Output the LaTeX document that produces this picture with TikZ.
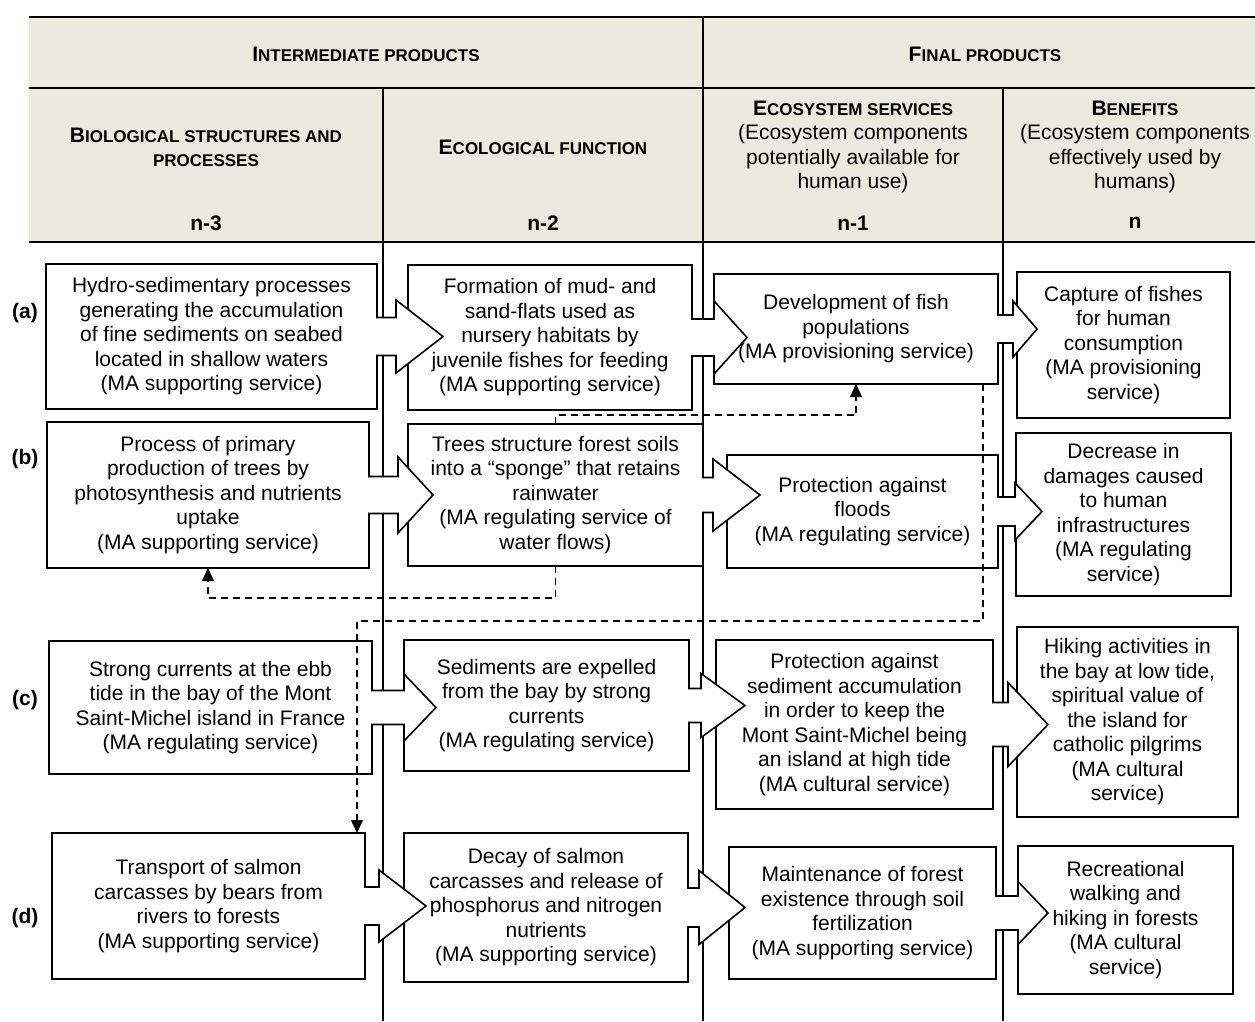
\documentclass[tikz,border=0pt]{standalone}
\usepackage{fontspec}
\setmainfont{Liberation Sans}
\usetikzlibrary{arrows.meta,calc}
\definecolor{hdr}{RGB}{236,233,223}
\newcommand\smc{\fontsize{17}{20}\selectfont}
\pgfdeclarelayer{bg}
\pgfdeclarelayer{shp}
\pgfsetlayers{bg,shp,main}
\tikzset{
  txt/.style={inner sep=0pt, outer sep=0pt, align=center, font=\fontsize{21}{24.5}\selectfont},
  hdrtxt/.style={txt, font=\fontsize{21}{24.5}\selectfont\bfseries},
  lbl/.style={txt, font=\fontsize{21}{24.5}\selectfont\bfseries},
  box/.style args={#1/#2}{txt, minimum width=#1pt, minimum height=#2pt},
  shapeline/.style={draw=black, line width=1.6pt, fill=white, line join=miter},
  rule/.style={black, line width=2pt},
  sep/.style={black, line width=1.5pt},
  dashline/.style={black, line width=1.4pt, dash pattern=on 7pt off 5pt,
    -{Triangle[width=12pt,length=13pt]}}
}
% #1 node, #2 shaft length, #3 shaft half height, #4 head half height, #5 tip distance
\newcommand\callout[5]{%
  \draw[shapeline] (#1.north west) -- (#1.north east)
    -- ([yshift=#3pt]#1.east) -- ([xshift=#2pt,yshift=#3pt]#1.east)
    -- ([xshift=#2pt,yshift=#4pt]#1.east) -- ([xshift=#5pt]#1.east)
    -- ([xshift=#2pt,yshift=-#4pt]#1.east) -- ([xshift=#2pt,yshift=-#3pt]#1.east)
    -- ([yshift=-#3pt]#1.east) -- (#1.south east) -- (#1.south west) -- cycle;}
\begin{document}
\begin{tikzpicture}[x=1pt,y=-1pt]
\useasboundingbox (0,0) rectangle (1255,1021);

% header texts
\node[hdrtxt] (hint) at (366,54) {I{\smc NTERMEDIATE PRODUCTS}};
\node[hdrtxt] (hfin) at (985,54) {F{\smc INAL PRODUCTS}};
\node[hdrtxt] (hbio) at (206,147.5) {B{\smc IOLOGICAL STRUCTURES AND}\\{\smc PROCESSES}};
\node[hdrtxt] (heco) at (543,147) {E{\smc COLOGICAL FUNCTION}};
\node[txt] (hes) at (853,147) {{\bfseries E{\smc COSYSTEM SERVICES}}\\(Ecosystem components\\potentially available for\\human use)};
\node[txt] (hben) at (1135,147) {{\bfseries B{\smc ENEFITS}}\\(Ecosystem components\\effectively used by\\humans)};
\node[hdrtxt] (n3) at (206,223) {n-3};
\node[hdrtxt] (n2) at (543,223) {n-2};
\node[hdrtxt] (n1) at (853,223) {n-1};
\node[hdrtxt] (n0) at (1135,223) {n};

% row labels
\node[lbl] (la) at (25,313) {(a)};
\node[lbl] (lb) at (25,459) {(b)};
\node[lbl] (lc) at (25,700) {(c)};
\node[lbl] (ld) at (25,918) {(d)};

% row (a)
\node[box=331/145] (A1) at (211.5,336.5) {Hydro-sedimentary processes\\generating the accumulation\\of fine sediments on seabed\\located in shallow waters\\(MA supporting service)};
\node[box=284/145] (A2) at (550,337.5) {Formation of mud- and\\sand-flats used as\\nursery habitats by\\juvenile fishes for feeding\\(MA supporting service)};
\node[box=284/110] (A3) at (856,329) {Development of fish\\populations\\(MA provisioning service)};
\node[box=213/146] (A4) at (1123.5,345) {Capture of fishes\\for human\\consumption\\(MA provisioning\\service)};

% row (b)
\node[box=322/146] (B1) at (208,495) {Process of primary\\production of trees by\\photosynthesis and nutrients\\uptake\\(MA supporting service)};
\node[box=295/142] (B2) at (555.5,495) {Trees structure forest soils\\into a “sponge” that retains\\rainwater\\(MA regulating service of\\water flows)};
\node[box=271/113] (B3) at (862.5,511.5) {Protection against\\floods\\(MA regulating service)};
\node[box=215/163] (B4) at (1123.5,514.5) {Decrease in\\damages caused\\to human\\infrastructures\\(MA regulating\\service)};

% row (c)
\node[box=323/133] (C1) at (210.5,707.5) {Strong currents at the ebb\\tide in the bay of the Mont\\Saint-Michel island in France\\(MA regulating service)};
\node[box=285/131] (C2) at (546.5,705.5) {Sediments are expelled\\from the bay by strong\\currents\\(MA regulating service)};
\node[box=277/169] (C3) at (854.5,724.5) {Protection against\\sediment accumulation\\in order to keep the\\Mont Saint-Michel being\\an island at high tide\\(MA cultural service)};
\node[box=221/190] (C4) at (1127.5,722) {Hiking activities in\\the bay at low tide,\\spiritual value of\\the island for\\catholic pilgrims\\(MA cultural\\service)};

% row (d)
\node[box=313/146] (D1) at (208.5,906) {Transport of salmon\\carcasses by bears from\\rivers to forests\\(MA supporting service)};
\node[box=284/149] (D2) at (546,907.5) {Decay of salmon\\carcasses and release of\\phosphorus and nitrogen\\nutrients\\(MA supporting service)};
\node[box=267/132] (D3) at (862.5,913) {Maintenance of forest\\existence through soil\\fertilization\\(MA supporting service)};
\node[box=215/148] (D4) at (1125.5,920) {Recreational\\walking and\\hiking in forests\\(MA cultural\\service)};

% background: header band, rules, column separators
\begin{pgfonlayer}{bg}
\fill[hdr] (29,17) rectangle (1255,242);
\draw[rule] (29,17) -- (1255,17);
\draw[rule] (29,88) -- (1255,88);
\draw[sep] (29,242) -- (1255,242);
\draw[sep] (703,17) -- (703,1021);
\draw[sep] (383,88) -- (383,1021);
\draw[sep] (1003,88) -- (1003,1021);
\end{pgfonlayer}

% box outlines, right column first so that arrow heads lie on top
\begin{pgfonlayer}{shp}
\foreach \n in {A4,B4,C4,D4}{\draw[shapeline] (\n.north west) rectangle (\n.south east);}
\callout{A3}{15}{14}{28}{39}
\callout{B3}{17}{14.5}{28.5}{44}
\callout{C3}{15}{22}{42}{55}
\callout{D3}{22}{17}{31.5}{52}
\callout{A2}{22}{18.5}{36.5}{55}
\callout{B2}{10}{17.5}{36}{57}
\callout{C2}{12}{17}{32}{56}
\callout{D2}{11}{19.5}{37}{57}
\callout{A1}{19}{19}{36.5}{66}
\callout{B1}{29}{18.5}{38}{64}
\callout{C1}{32}{17}{33.5}{64}
\callout{D1}{14}{19}{36}{61}
\end{pgfonlayer}

% dashed links
\draw[dashline] (B2.north) -- ++(0,-9) -| (A3.south);
\draw[dashline] (B2.south) -- ++(0,32) -| (B1.south);
\draw[dashline] ([xshift=-15pt]A3.south east) -- ++(0,237) -| ([xshift=-8pt]D1.north east);
\end{tikzpicture}
\end{document}
